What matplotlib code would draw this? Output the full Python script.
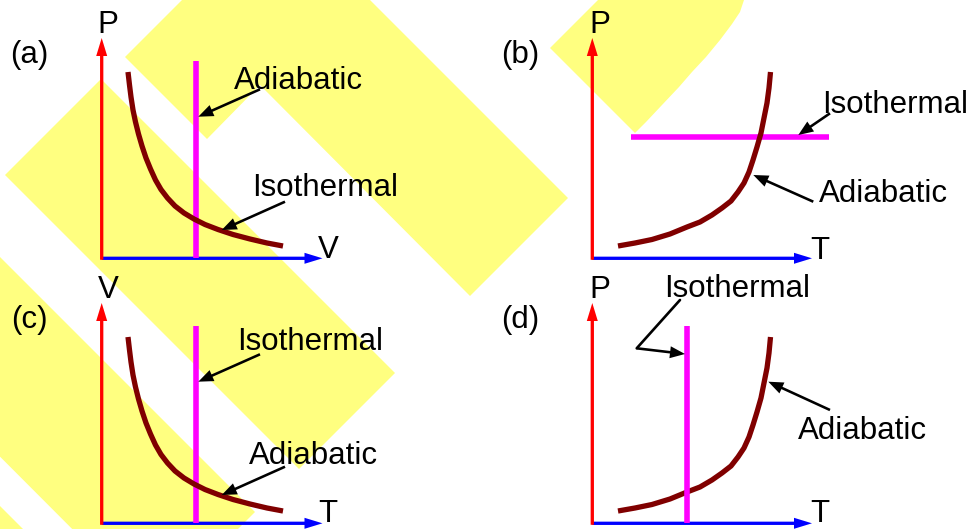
import matplotlib
matplotlib.use('Agg')
import matplotlib.pyplot as plt
from matplotlib.patches import Polygon

plt.rcParams['font.family'] = ['Liberation Sans', 'DejaVu Sans']

W, H = 970, 529
DY = 265            # offset of the lower row of panels
YELLOW = '#ffff80'
FS = 22.5

# watermark shapes behind the diagrams (pixel coords, y down)
band_top = [(182, 0), (370, 0), (568, 198), (470, 296), (260, 85), (207, 139), (125, 57)]
band_mid = [(101, 79), (395, 373), (299, 469), (5, 175)]
band_low = [(-300, -43), (255, 512), (155, 612), (-300, 156)]
band_corner = [(-100, 406), (300, 806), (-100, 806)]
blob_x = [550, 598, 744, 740, 732, 720, 706, 692, 679, 662, 646, 635]
blob_y = [48, 0, 0, 12, 24, 40, 57, 72, 87, 105, 122, 133]

# falling curve of panels (a) and (c)
fall_x = [128, 129.5, 131, 133, 135.5, 138.5, 142, 146, 150.5, 155.5, 161, 167.5,
          175, 184, 194, 205, 218, 233, 250, 267, 283]
fall_y = [72, 85, 97, 110, 122, 134, 146, 158, 169, 180, 189.5, 198,
          206, 213, 219, 224.5, 229.5, 234.5, 239, 243, 246]
# rising curve of panels (b) and (d)
rise_x = [618, 635, 652, 670, 687, 700, 712, 722, 731, 738, 744, 749,
          753, 757, 761, 764, 767, 769, 770.5]
rise_y = [246, 243, 239.5, 234, 227, 222, 215, 208, 201, 192, 183, 172,
          160, 147, 133, 118, 103, 88, 72]

# panel letters, axis names
letters = ['(a)', '(b)', '(c)', '(d)']
letter_xy = [(29.5, 62.5), (520, 63), (29.5, 327.7), (520, 328)]
yname = ['P', 'P', 'V', 'P']
yname_xy = [(108, 33), (600, 33), (108, 298), (600, 298)]
xname = ['V', 'T', 'T', 'T']
xname_xy = [(328, 258.5), (820, 259), (328, 522), (820, 522)]
# axis origins and arrow tips
origin = [(101.7, 258.3), (592.3, 258.3), (101.7, 523.3), (592.3, 523.3)]
ytip = [38, 38, 303, 303]
xtip = [322.5, 812, 322.5, 812]

# labels and their pointers
labels = ['Adiabatic', 'Isothermal', 'Isothermal', 'Adiabatic',
          'Isothermal', 'Adiabatic', 'Isothermal', 'Adiabatic']
label_xy = [(299, 89.3), (325, 196), (895, 112.7), (884, 202.3),
            (310, 350), (314, 464.3), (737.5, 297), (862.5, 439)]
ptr_from = [(260, 89.3), (285, 201.7), (830, 113.3), (813.3, 201.7),
            (260, 354.3), (285, 466.7), (636.7, 348.3), (830, 410)]
ptr_to = [(198.3, 116.7), (221.7, 230), (798.3, 135), (753.3, 175),
          (198.3, 381.7), (221.7, 495), (685, 354), (768.3, 381.7)]

fig = plt.figure(figsize=(W / 100, H / 100), dpi=100)
ax = fig.add_axes([0, 0, 1, 1])
ax.set_xlim(0, W)
ax.set_ylim(H, 0)
ax.axis('off')

for pts in (band_top, band_mid, band_low, band_corner, list(zip(blob_x, blob_y))):
    ax.add_patch(Polygon(pts, closed=True, fc=YELLOW, ec='none', zorder=0))

# coordinate axes
for (x0, y0), yt, xt in zip(origin, ytip, xtip):
    ax.arrow(x0, y0, xt - x0, 0, width=3.3, head_width=11, head_length=18,
             length_includes_head=True, fc='blue', ec='none', zorder=2)
    ax.arrow(x0, y0 + 1.5, 0, yt - y0 - 1.5, width=3.3, head_width=11, head_length=18,
             length_includes_head=True, fc='red', ec='none', zorder=3)

# magenta lines
ax.plot([196.3, 196.3], [61, 258], color='magenta', lw=4, solid_capstyle='butt', zorder=4)
ax.plot([196.3, 196.3], [61 + DY, 258 + DY], color='magenta', lw=4, solid_capstyle='butt', zorder=4)
ax.plot([631, 829], [137.3, 137.3], color='magenta', lw=4, solid_capstyle='butt', zorder=4)
ax.plot([687.3, 687.3], [326, 523], color='magenta', lw=4, solid_capstyle='butt', zorder=6)

# brown curves
for off in (0, DY):
    ax.plot(fall_x, [y + off for y in fall_y], color='#800000', lw=3.8,
            solid_capstyle='butt', solid_joinstyle='round', zorder=5)
    ax.plot(rise_x, [y + off for y in rise_y], color='#800000', lw=3.8,
            solid_capstyle='butt', solid_joinstyle='round', zorder=5)

# texts
for s, (x, y) in zip(letters, letter_xy):
    ax.text(x, y, s, fontsize=FS, ha='center', va='baseline', zorder=8)
for s, (x, y) in zip(yname, yname_xy):
    ax.text(x, y, s, fontsize=FS, ha='center', va='baseline', zorder=8)
for s, (x, y) in zip(xname, xname_xy):
    ax.text(x, y, s, fontsize=FS, ha='center', va='baseline', zorder=8)
for s, (x, y) in zip(labels, label_xy):
    ax.text(x, y, s, fontsize=FS, ha='center', va='baseline', zorder=8)

# pointers
for (x0, y0), (x1, y1) in zip(ptr_from, ptr_to):
    ax.arrow(x0, y0, x1 - x0, y1 - y0, width=2.6, head_width=12, head_length=15,
             length_includes_head=True, fc='black', ec='none', zorder=7)
# bent pointer in (d)
ax.plot([680, 636.7], [300, 348.3], color='black', lw=1.9, solid_capstyle='round', zorder=7)

fig.savefig('out.png', dpi=100)
